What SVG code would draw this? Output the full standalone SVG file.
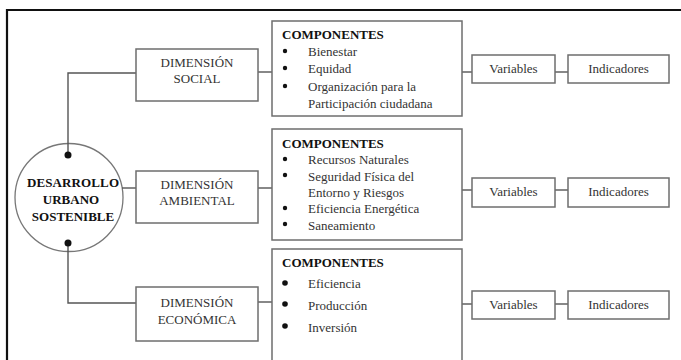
<svg xmlns="http://www.w3.org/2000/svg" width="681" height="360" viewBox="0 0 681 360">
<style>
.box{fill:#fff;stroke:#6e6e6e;stroke-width:1.5}
.ln{fill:none;stroke:#555;stroke-width:1.4}
.t{font-family:"Liberation Serif","Times New Roman",Times,serif;font-size:13px;fill:#333}
.c{text-anchor:middle}
.b{font-weight:bold;fill:#111}
.dot{fill:#111}
</style>
<rect x="0" y="0" width="681" height="360" fill="#fff"/>
<path d="M7 360 V10 H681" fill="none" stroke="#111" stroke-width="2.2"/>
<g id="center">
<circle cx="69" cy="197.5" r="54" fill="#fff" stroke="#777" stroke-width="1.3"/>
<text class="t c b" x="73" y="187" textLength="92">DESARROLLO</text>
<text class="t c b" x="71" y="204">URBANO</text>
<text class="t c b" x="73" y="221">SOSTENIBLE</text>
</g>
<g id="connectors">
<path class="ln" d="M68 155 V73 H136"/>
<path class="ln" d="M68 243 V303 H136"/>
<path class="ln" d="M122 188 H136"/>
<circle class="dot" cx="68" cy="155" r="3.5"/>
<circle class="dot" cx="68" cy="243" r="3.5"/>
<path class="ln" d="M258 72 H272"/>
<path class="ln" d="M258 188 H272"/>
<path class="ln" d="M258 302 H272"/>
<path class="ln" d="M462 72 H472"/>
<path class="ln" d="M462 190 H472"/>
<path class="ln" d="M462 304 H472"/>
<path class="ln" d="M555 72 H568"/>
<path class="ln" d="M555 190 H568"/>
<path class="ln" d="M555 304 H568"/>
</g>
<g id="dim-social">
<rect class="box" x="136" y="49" width="122" height="52"/>
<text class="t c" x="197" y="67">DIMENSIÓN</text>
<text class="t c" x="197" y="83">SOCIAL</text>
</g>
<g id="dim-ambiental">
<rect class="box" x="136" y="171" width="122" height="52"/>
<text class="t c" x="197" y="189">DIMENSIÓN</text>
<text class="t c" x="197" y="205">AMBIENTAL</text>
</g>
<g id="dim-economica">
<rect class="box" x="136" y="287" width="122" height="54"/>
<text class="t c" x="197" y="307">DIMENSIÓN</text>
<text class="t c" x="197" y="324">ECONÓMICA</text>
</g>
<g id="comp-social">
<rect class="box" x="272" y="21" width="190" height="95"/>
<text class="t b" x="282" y="39">COMPONENTES</text>
<circle class="dot" cx="285" cy="51" r="2.2"/>
<circle class="dot" cx="285" cy="68" r="2.2"/>
<circle class="dot" cx="285" cy="86" r="2.2"/>
<text class="t" x="308" y="56">Bienestar</text>
<text class="t" x="308" y="73">Equidad</text>
<text class="t" x="308" y="91">Organización para la</text>
<text class="t" x="308" y="108">Participación ciudadana</text>
</g>
<g id="comp-ambiental">
<rect class="box" x="272" y="129" width="190" height="111"/>
<text class="t b" x="282" y="148">COMPONENTES</text>
<circle class="dot" cx="285" cy="159" r="2.2"/>
<circle class="dot" cx="285" cy="175" r="2.2"/>
<circle class="dot" cx="285" cy="208" r="2.2"/>
<circle class="dot" cx="285" cy="224" r="2.2"/>
<text class="t" x="308" y="164">Recursos Naturales</text>
<text class="t" x="308" y="181">Seguridad Física del</text>
<text class="t" x="308" y="197">Entorno y Riesgos</text>
<text class="t" x="308" y="213">Eficiencia Energética</text>
<text class="t" x="308" y="230">Saneamiento</text>
</g>
<g id="comp-economica">
<rect class="box" x="272" y="249" width="190" height="120"/>
<text class="t b" x="282" y="267">COMPONENTES</text>
<circle class="dot" cx="285" cy="283" r="2.8"/>
<circle class="dot" cx="285" cy="304" r="2.8"/>
<circle class="dot" cx="285" cy="326" r="2.8"/>
<text class="t" x="308" y="288">Eficiencia</text>
<text class="t" x="308" y="310">Producción</text>
<text class="t" x="308" y="332">Inversión</text>
</g>
<g id="var-1">
<rect class="box" x="472" y="55" width="83" height="28"/>
<text class="t c" x="513.5" y="73">Variables</text>
</g>
<g id="ind-1">
<rect class="box" x="568" y="55" width="101" height="28"/>
<text class="t c" x="618.5" y="73">Indicadores</text>
</g>
<g id="var-2">
<rect class="box" x="472" y="178" width="83" height="29"/>
<text class="t c" x="513.5" y="196">Variables</text>
</g>
<g id="ind-2">
<rect class="box" x="568" y="178" width="101" height="29"/>
<text class="t c" x="618.5" y="196">Indicadores</text>
</g>
<g id="var-3">
<rect class="box" x="472" y="291" width="83" height="28"/>
<text class="t c" x="513.5" y="309">Variables</text>
</g>
<g id="ind-3">
<rect class="box" x="568" y="291" width="101" height="28"/>
<text class="t c" x="618.5" y="309">Indicadores</text>
</g>
</svg>
